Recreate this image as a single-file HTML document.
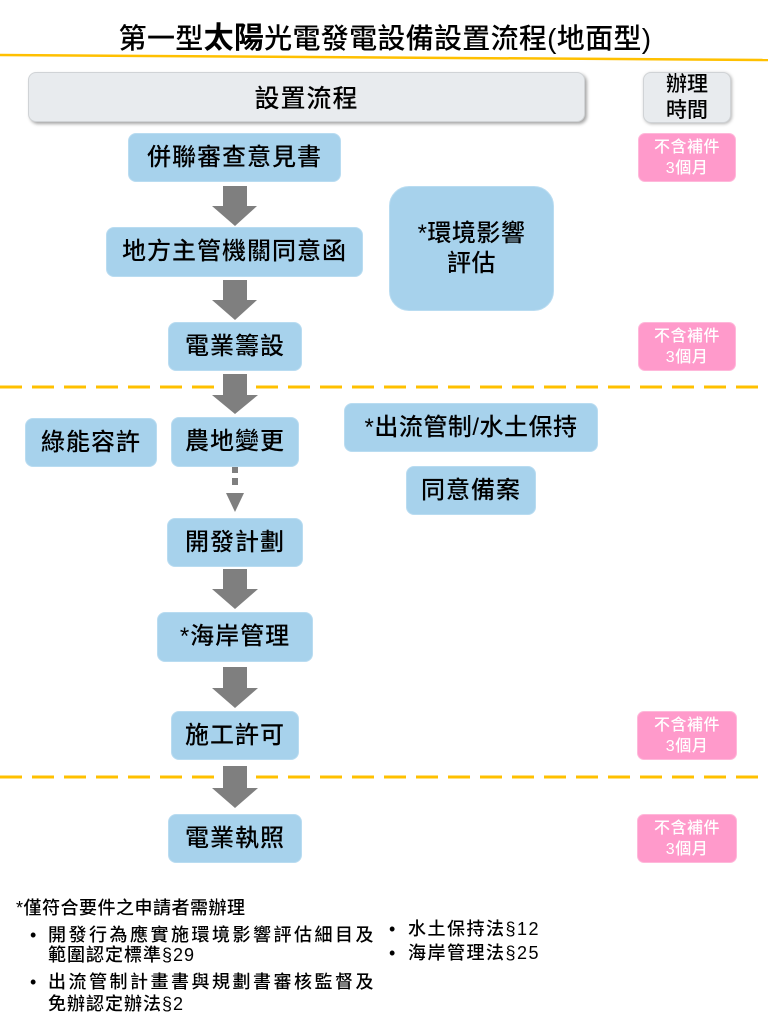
<!DOCTYPE html>
<html>
<head>
<meta charset="utf-8">
<style>
  html,body{margin:0;padding:0;background:#fff;}
  body{width:768px;height:1024px;position:relative;overflow:hidden;
       font-family:"Liberation Sans","Noto Sans CJK TC",sans-serif;color:#000;}
  .abs{position:absolute;}
  .box{position:absolute;background:#A7D2EC;border:1px solid #B9DCF1;border-radius:8px;
       box-sizing:border-box;display:flex;align-items:center;justify-content:center;
       font-size:24px;letter-spacing:1px;white-space:nowrap;line-height:30px;text-align:center;font-weight:500;}
  .pink{position:absolute;background:#FF9ACB;border:1px solid #FFB8DA;border-radius:7px;box-sizing:border-box;
        color:#fff;font-size:16px;line-height:21px;text-align:center;display:flex;flex-direction:column;
        align-items:center;justify-content:center;letter-spacing:0.5px;font-weight:500;}
  .note{position:absolute;font-size:18px;letter-spacing:2.5px;white-space:nowrap;line-height:20px;font-weight:500;}
</style>
</head>
<body>

<!-- Title -->
<div class="abs" style="left:0;width:770px;top:22px;text-align:center;font-size:28px;line-height:34px;white-space:nowrap;letter-spacing:0.3px;font-weight:500;">第一型<span style="font-size:30px;font-weight:bold;">太陽</span>光電發電設備設置流程(地面型)</div>

<svg class="abs" style="left:0;top:0;" width="768" height="1024" viewBox="0 0 768 1024">
  <line x1="0" y1="55" x2="768" y2="60" stroke="#FFC000" stroke-width="2.5"/>
  <line x1="0" y1="387" x2="768" y2="387" stroke="#FFC000" stroke-width="3" stroke-dasharray="22 10"/>
  <line x1="0" y1="777" x2="768" y2="777" stroke="#FFC000" stroke-width="3" stroke-dasharray="22 10"/>

  <g fill="#7F7F7F">
    <polygon points="223,186 247,186 247,206 257,206 235,226 212,206 223,206"/>
    <polygon points="223,280 247,280 247,300 257,300 235,320 212,300 223,300"/>
    <polygon points="223,374 247,374 247,395 258,395 235,414 212,395 223,395"/>
    <rect x="232" y="467" width="6" height="6"/>
    <rect x="232" y="478" width="6" height="7"/>
    <polygon points="226,493 244,493 235,512"/>
    <polygon points="223,569 247,569 247,589 258,589 235,609 212,589 223,589"/>
    <polygon points="223,667 247,667 247,688 258,688 235,708 212,688 223,688"/>
    <polygon points="223,766 247,766 247,788 258,788 235,808 212,788 223,788"/>
  </g>
</svg>

<!-- header boxes -->
<div class="abs" style="left:28px;top:72px;width:557px;height:50px;background:#E8EBEE;border:1px solid #D0D3D6;border-radius:8px;box-sizing:border-box;box-shadow:2px 2px 3px rgba(0,0,0,0.35);display:flex;align-items:center;justify-content:center;font-size:25px;letter-spacing:1px;font-weight:500;">設置流程</div>
<div class="abs" style="left:643px;top:72px;width:88px;height:51px;background:#E8EBEE;border:1px solid #D0D3D6;border-radius:8px;box-sizing:border-box;box-shadow:1px 1px 3px rgba(0,0,0,0.3);display:flex;align-items:center;justify-content:center;font-size:21px;line-height:26px;text-align:center;font-weight:500;">辦理<br>時間</div>

<!-- flow boxes -->
<div class="box" style="left:128px;top:133px;width:213px;height:49px;">併聯審查意見書</div>
<div class="box" style="left:106px;top:227px;width:257px;height:50px;">地方主管機關同意函</div>
<div class="box" style="left:168px;top:322px;width:134px;height:49px;">電業籌設</div>
<div class="box" style="left:389px;top:186px;width:165px;height:125px;border-radius:20px;line-height:30px;letter-spacing:0.5px;">*環境影響<br>評估</div>

<div class="box" style="left:25px;top:418px;width:132px;height:49px;">綠能容許</div>
<div class="box" style="left:171px;top:417px;width:128px;height:50px;">農地變更</div>
<div class="box" style="left:344px;top:403px;width:254px;height:49px;letter-spacing:0.5px;">*出流管制/水土保持</div>
<div class="box" style="left:406px;top:466px;width:130px;height:49px;">同意備案</div>
<div class="box" style="left:167px;top:518px;width:136px;height:49px;">開發計劃</div>
<div class="box" style="left:157px;top:612px;width:156px;height:50px;">*海岸管理</div>
<div class="box" style="left:171px;top:711px;width:128px;height:49px;">施工許可</div>
<div class="box" style="left:168px;top:814px;width:134px;height:49px;">電業執照</div>

<!-- pink duration boxes -->
<div class="pink" style="left:638px;top:133px;width:98px;height:49px;"><div>不含補件</div><div>3個月</div></div>
<div class="pink" style="left:638px;top:322px;width:98px;height:49px;"><div>不含補件</div><div>3個月</div></div>
<div class="pink" style="left:637px;top:711px;width:100px;height:49px;"><div>不含補件</div><div>3個月</div></div>
<div class="pink" style="left:637px;top:814px;width:100px;height:49px;"><div>不含補件</div><div>3個月</div></div>

<!-- notes -->
<div class="note" style="left:16px;top:898px;letter-spacing:0.5px;">*僅符合要件之申請者需辦理</div>
<div class="note" style="left:30px;top:925px;">•</div>
<div class="note" style="left:48px;top:925px;">開發行為應實施環境影響評估細目及</div>
<div class="note" style="left:48px;top:945px;letter-spacing:1px;">範圍認定標準§29</div>
<div class="note" style="left:30px;top:972px;">•</div>
<div class="note" style="left:48px;top:972px;">出流管制計畫書與規劃書審核監督及</div>
<div class="note" style="left:48px;top:994px;letter-spacing:1px;">免辦認定辦法§2</div>
<div class="note" style="left:389px;top:919px;">•</div>
<div class="note" style="left:408px;top:919px;letter-spacing:1.5px;">水土保持法§12</div>
<div class="note" style="left:389px;top:943px;">•</div>
<div class="note" style="left:408px;top:943px;letter-spacing:1.5px;">海岸管理法§25</div>

</body>
</html>
